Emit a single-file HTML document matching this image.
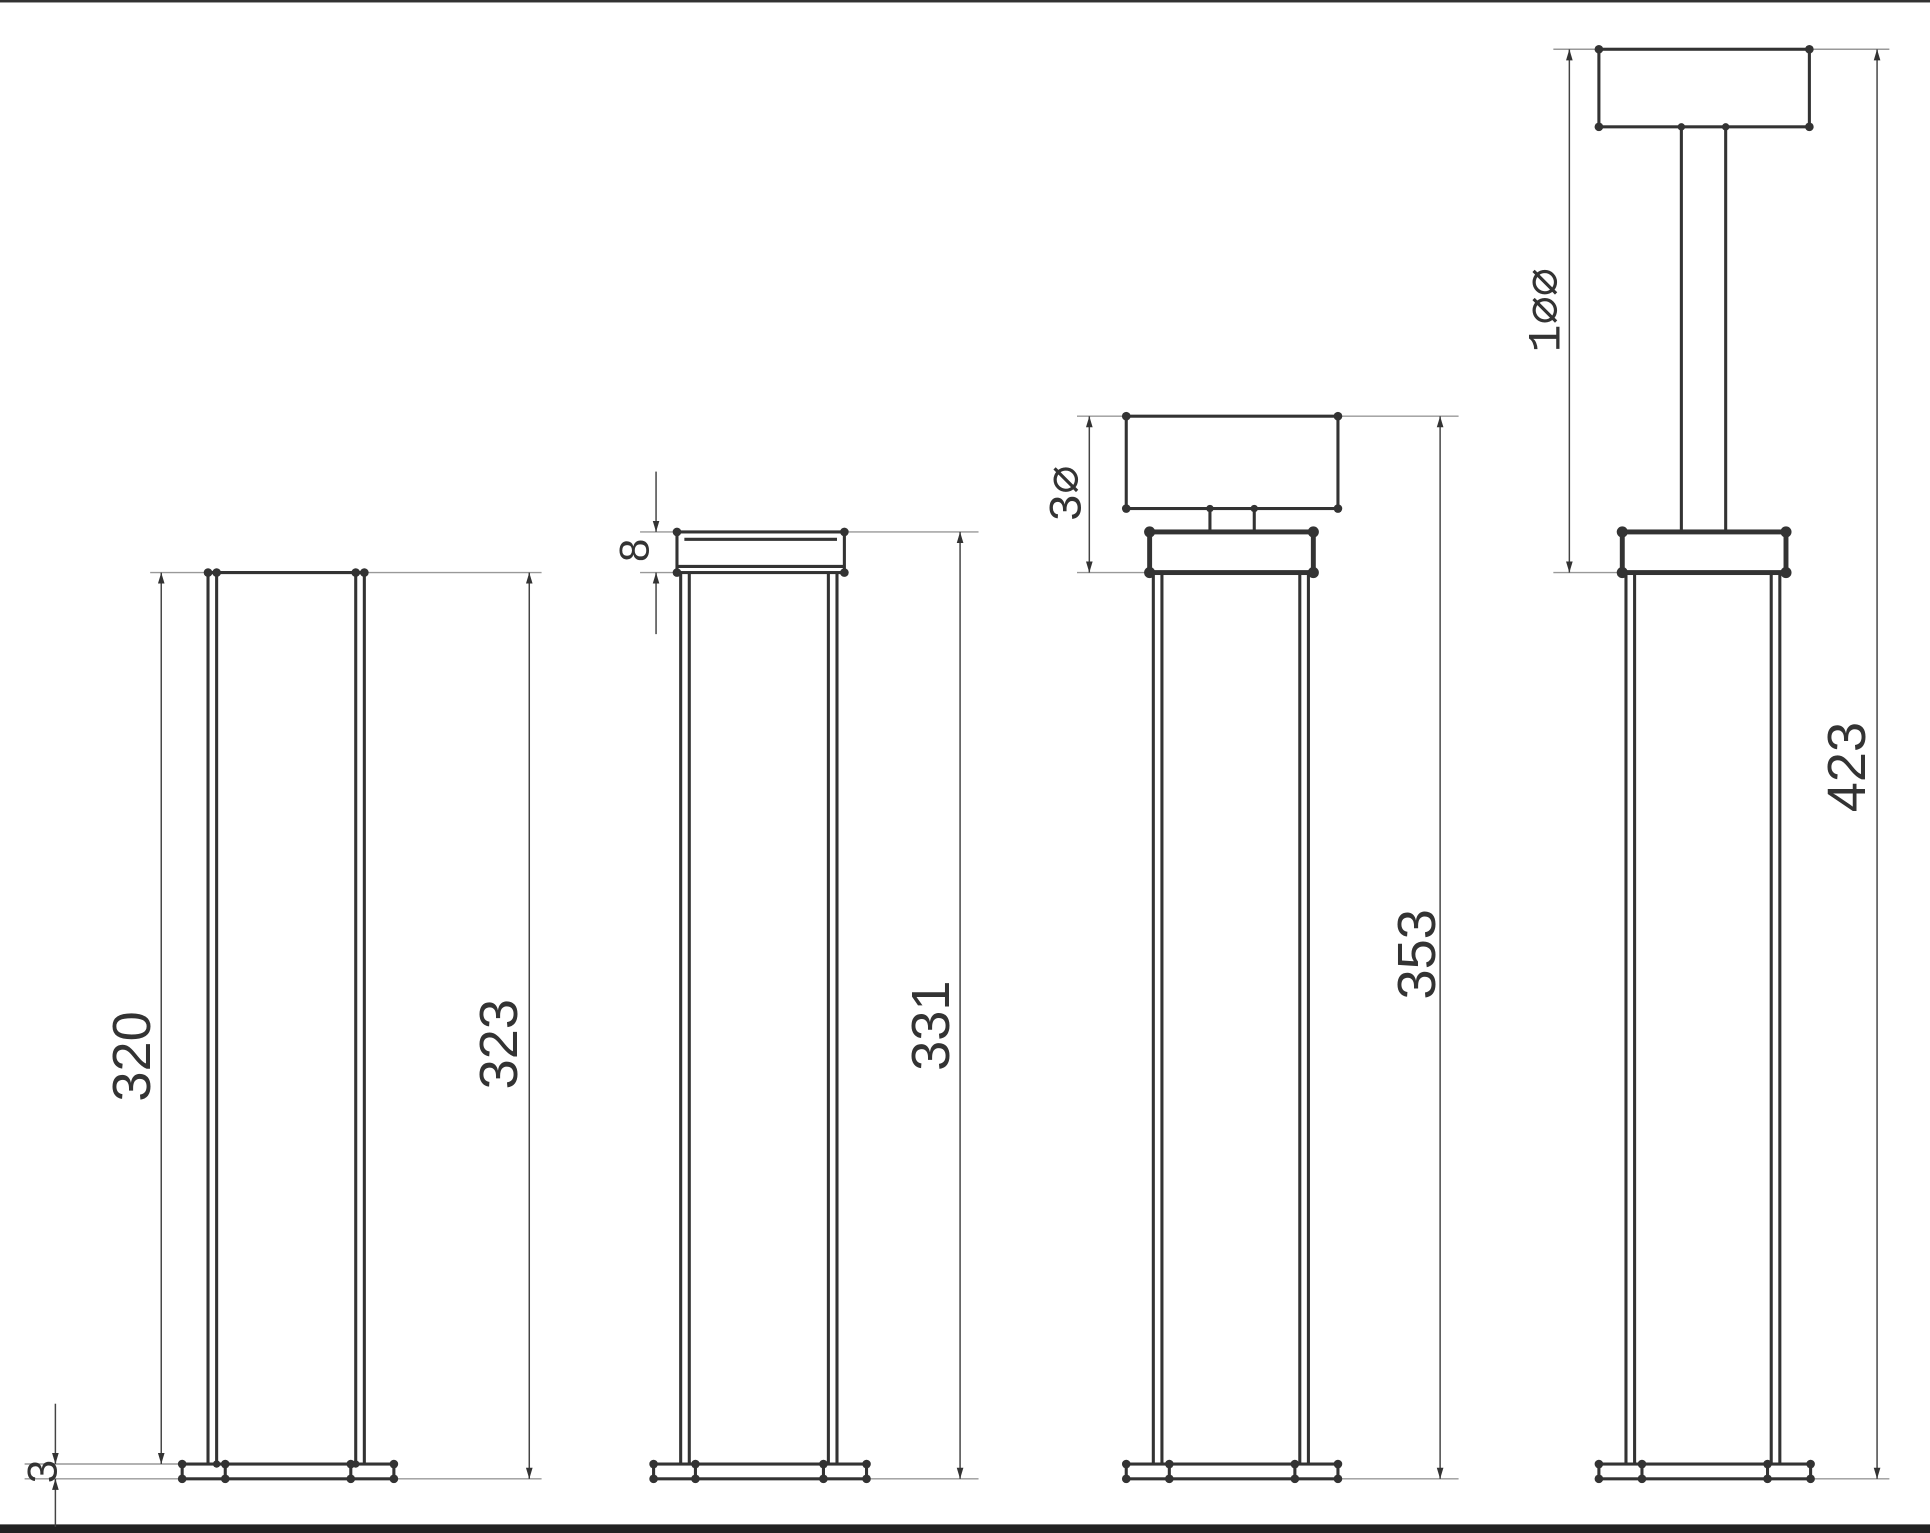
<!DOCTYPE html>
<html><head><meta charset="utf-8"><style>
html,body{margin:0;padding:0;background:#fff;width:1930px;height:1533px;overflow:hidden}
svg{display:block}
text{font-family:"Liberation Sans",sans-serif;fill:#333}
.m{font-family:"Liberation Mono",monospace}
</style></head><body>
<svg width="1930" height="1533" viewBox="0 0 1568 1245" preserveAspectRatio="none" xmlns="http://www.w3.org/2000/svg">
<defs>
<marker id="a" viewBox="0 0 10 10" refX="10" refY="5" markerWidth="9" markerHeight="22" orient="auto-start-reverse" markerUnits="userSpaceOnUse"><path d="M0,2 L10,5 L0,8 z" fill="#333"/></marker>
</defs>
<rect x="0" y="0" width="1568" height="2" fill="#333"/>
<rect x="0" y="1238" width="1568" height="7" fill="#222"/>
<g stroke="#999" stroke-width="1.2" fill="none">
<!-- extension lines -->
<line x1="122" y1="465" x2="440" y2="465"/>
<line x1="20" y1="1189" x2="148" y2="1189"/>
<line x1="20" y1="1201" x2="148" y2="1201"/>
<line x1="320" y1="1201" x2="440" y2="1201"/>
<line x1="520" y1="432" x2="795" y2="432"/>
<line x1="520" y1="465" x2="553" y2="465"/>
<line x1="704" y1="1201" x2="795" y2="1201"/>
<line x1="875" y1="338" x2="915" y2="338"/>
<line x1="1087" y1="338" x2="1185" y2="338"/>
<line x1="875" y1="465" x2="934" y2="465"/>
<line x1="1087" y1="1201" x2="1185" y2="1201"/>
<line x1="1262" y1="40" x2="1299" y2="40"/>
<line x1="1470" y1="40" x2="1535" y2="40"/>
<line x1="1262" y1="465" x2="1318" y2="465"/>
<line x1="1471" y1="1201" x2="1535" y2="1201"/>
</g>
<g stroke="#444" stroke-width="1.2" fill="none">
<line x1="131" y1="465" x2="131" y2="1189" marker-start="url(#a)" marker-end="url(#a)"/>
<line x1="430" y1="465" x2="430" y2="1201" marker-start="url(#a)" marker-end="url(#a)"/>
<line x1="45" y1="1140" x2="45" y2="1189" marker-end="url(#a)"/>
<line x1="45" y1="1240" x2="45" y2="1201" marker-end="url(#a)"/>
<line x1="533" y1="383" x2="533" y2="432" marker-end="url(#a)"/>
<line x1="533" y1="515" x2="533" y2="465" marker-end="url(#a)"/>
<line x1="780" y1="432" x2="780" y2="1201" marker-start="url(#a)" marker-end="url(#a)"/>
<line x1="885" y1="338" x2="885" y2="465" marker-start="url(#a)" marker-end="url(#a)"/>
<line x1="1170" y1="338" x2="1170" y2="1201" marker-start="url(#a)" marker-end="url(#a)"/>
<line x1="1275" y1="40" x2="1275" y2="465" marker-start="url(#a)" marker-end="url(#a)"/>
<line x1="1525" y1="40" x2="1525" y2="1201" marker-start="url(#a)" marker-end="url(#a)"/>
</g>
<g stroke="#333" stroke-width="2.5" fill="none">
<!-- column 1 -->
<line x1="169" y1="465" x2="169" y2="1189"/><line x1="176" y1="465" x2="176" y2="1189"/>
<line x1="289" y1="465" x2="289" y2="1189"/><line x1="296" y1="465" x2="296" y2="1189"/>
<line x1="169" y1="465" x2="296" y2="465"/>
<rect x="148" y="1189" width="172" height="12"/>
<line x1="183" y1="1189" x2="183" y2="1201"/><line x1="285" y1="1189" x2="285" y2="1201"/>
<!-- column 2 -->
<line x1="553" y1="465" x2="553" y2="1189"/><line x1="560" y1="465" x2="560" y2="1189"/>
<line x1="673" y1="465" x2="673" y2="1189"/><line x1="680" y1="465" x2="680" y2="1189"/>
<rect x="550" y="432" width="136" height="33"/>
<line x1="556" y1="438" x2="680" y2="438"/><line x1="550" y1="460" x2="686" y2="460"/>
<rect x="531" y="1189" width="173" height="12"/>
<line x1="565" y1="1189" x2="565" y2="1201"/><line x1="669" y1="1189" x2="669" y2="1201"/>
<!-- column 3 -->
<line x1="937" y1="465" x2="937" y2="1189"/><line x1="944" y1="465" x2="944" y2="1189"/>
<line x1="1056" y1="465" x2="1056" y2="1189"/><line x1="1063" y1="465" x2="1063" y2="1189"/>
<rect x="934" y="432" width="133" height="33" stroke-width="4"/>
<rect x="915" y="338" width="172" height="75"/>
<line x1="983" y1="413" x2="983" y2="432"/><line x1="1019" y1="413" x2="1019" y2="432"/>
<rect x="915" y="1189" width="172" height="12"/>
<line x1="950" y1="1189" x2="950" y2="1201"/><line x1="1052" y1="1189" x2="1052" y2="1201"/>
<!-- column 4 -->
<line x1="1321" y1="465" x2="1321" y2="1189"/><line x1="1328" y1="465" x2="1328" y2="1189"/>
<line x1="1439" y1="465" x2="1439" y2="1189"/><line x1="1446" y1="465" x2="1446" y2="1189"/>
<rect x="1318" y="432" width="133" height="33" stroke-width="4"/>
<line x1="1366" y1="103" x2="1366" y2="432"/><line x1="1402" y1="103" x2="1402" y2="432"/>
<rect x="1299" y="40" width="171" height="63"/>
<rect x="1299" y="1189" width="172" height="12"/>
<line x1="1334" y1="1189" x2="1334" y2="1201"/><line x1="1436" y1="1189" x2="1436" y2="1201"/>
</g>
<g fill="#333">
<circle cx="169" cy="465" r="3.5"/><circle cx="176" cy="465" r="3.5"/><circle cx="289" cy="465" r="3.5"/><circle cx="296" cy="465" r="3.5"/>
<circle cx="148" cy="1189" r="3.5"/><circle cx="183" cy="1189" r="3.5"/><circle cx="285" cy="1189" r="3.5"/><circle cx="320" cy="1189" r="3.5"/>
<circle cx="148" cy="1201" r="3.5"/><circle cx="183" cy="1201" r="3.5"/><circle cx="285" cy="1201" r="3.5"/><circle cx="320" cy="1201" r="3.5"/>
<circle cx="176" cy="1189" r="3"/><circle cx="289" cy="1189" r="3"/>
<circle cx="550" cy="432" r="3.5"/><circle cx="686" cy="432" r="3.5"/><circle cx="550" cy="465" r="3.5"/><circle cx="686" cy="465" r="3.5"/>
<circle cx="531" cy="1189" r="3.5"/><circle cx="565" cy="1189" r="3.5"/><circle cx="669" cy="1189" r="3.5"/><circle cx="704" cy="1189" r="3.5"/>
<circle cx="531" cy="1201" r="3.5"/><circle cx="565" cy="1201" r="3.5"/><circle cx="669" cy="1201" r="3.5"/><circle cx="704" cy="1201" r="3.5"/>
<circle cx="915" cy="338" r="3.5"/><circle cx="1087" cy="338" r="3.5"/><circle cx="915" cy="413" r="3.5"/><circle cx="1087" cy="413" r="3.5"/>
<circle cx="983" cy="413" r="3"/><circle cx="1019" cy="413" r="3"/>
<circle cx="934" cy="432" r="4.5"/><circle cx="1067" cy="432" r="4.5"/><circle cx="934" cy="465" r="4.5"/><circle cx="1067" cy="465" r="4.5"/>
<circle cx="915" cy="1189" r="3.5"/><circle cx="950" cy="1189" r="3.5"/><circle cx="1052" cy="1189" r="3.5"/><circle cx="1087" cy="1189" r="3.5"/>
<circle cx="915" cy="1201" r="3.5"/><circle cx="950" cy="1201" r="3.5"/><circle cx="1052" cy="1201" r="3.5"/><circle cx="1087" cy="1201" r="3.5"/>
<circle cx="1299" cy="40" r="3.5"/><circle cx="1470" cy="40" r="3.5"/><circle cx="1299" cy="103" r="3.5"/><circle cx="1470" cy="103" r="3.5"/>
<circle cx="1366" cy="103" r="3"/><circle cx="1402" cy="103" r="3"/>
<circle cx="1318" cy="432" r="4.5"/><circle cx="1451" cy="432" r="4.5"/><circle cx="1318" cy="465" r="4.5"/><circle cx="1451" cy="465" r="4.5"/>
<circle cx="1299" cy="1189" r="3.5"/><circle cx="1334" cy="1189" r="3.5"/><circle cx="1436" cy="1189" r="3.5"/><circle cx="1471" cy="1189" r="3.5"/>
<circle cx="1299" cy="1201" r="3.5"/><circle cx="1334" cy="1201" r="3.5"/><circle cx="1436" cy="1201" r="3.5"/><circle cx="1471" cy="1201" r="3.5"/>
</g>
<g font-size="44" text-anchor="middle">
<text transform="translate(122,858) rotate(-90)">320</text>
<text transform="translate(420,848) rotate(-90)">323</text>
<text transform="translate(46,1195) rotate(-90)" font-size="34">3</text>
<text transform="translate(527,447) rotate(-90)" font-size="34">8</text>
<text transform="translate(771,833) rotate(-90)">331</text>
<text transform="translate(1166,775) rotate(-90)">353</text>
<text transform="translate(1515,623) rotate(-90)">423</text>
<text class="m" transform="translate(878,401) rotate(-90)" font-size="38">3∅</text>
<text class="m" transform="translate(1267,252) rotate(-90)" font-size="38">1∅∅</text>
</g>
</svg>
</body></html>
